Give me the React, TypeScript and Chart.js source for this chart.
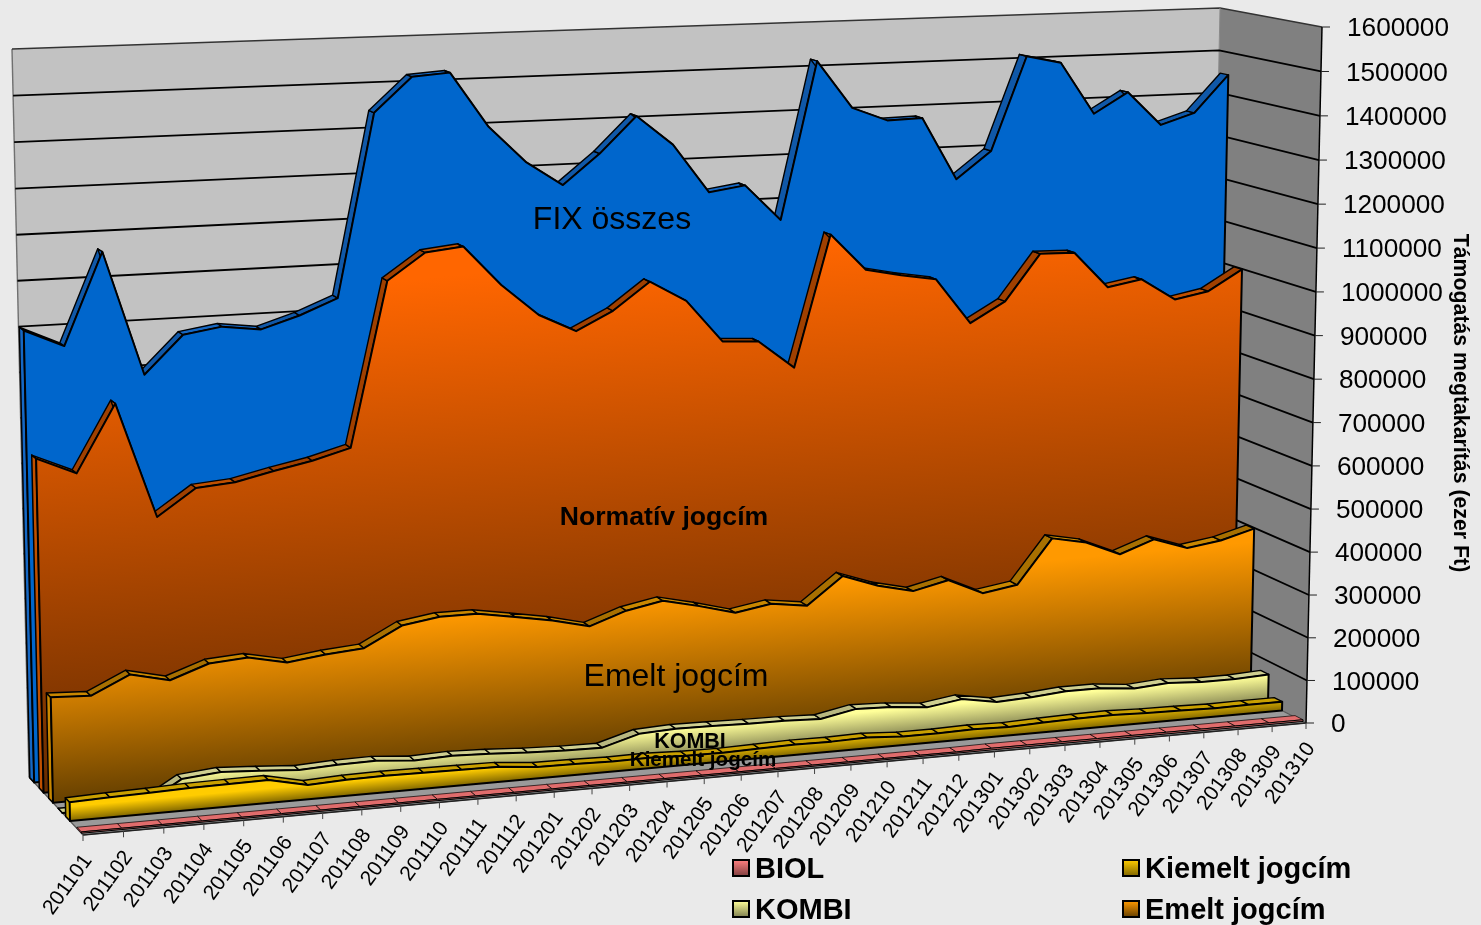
import React, { useEffect, useRef } from "react";
import { Chart, LineController, registerables } from "chart.js";

const months = ["201101","201102","201103","201104","201105","201106","201107","201108","201109","201110","201111","201112","201201","201202","201203","201204","201205","201206","201207","201208","201209","201210","201211","201212","201301","201302","201303","201304","201305","201306","201307","201308","201309","201310"];

const biol = [3000,3000,3000,3000,3000,3000,3000,3000,3000,3000,3000,3000,3000,3000,3000,3000,3000,3000,3000,3000,3000,3000,3000,3000,4000,4000,4000,4000,4000,4000,4000,4000,4000,4000];
const kiemelt = [41000,44000,46000,49000,50000,51000,32000,36000,37000,36000,35000,34000,26000,25000,23000,24000,21000,20000,22000,24000,23000,25000,20000,20000,22000,20000,23000,25000,26000,23000,22000,20000,21000,21000];
const kombi = [0,0,0,51000,59000,54000,48000,52000,53000,46000,49000,46000,41000,38000,37000,61000,65000,64000,62000,61000,58000,74000,71000,63000,75000,61000,65000,72000,72000,64000,70000,65000,65000,69000];
const emelt = [233000,229000,269000,249000,279000,285000,267000,278000,285000,329000,342000,342000,328000,313000,293000,322000,338000,319000,297000,311000,300000,362000,333000,314000,333000,296000,309000,412000,396000,362000,391000,364000,376000,398000];
const normativ = [737000,699000,846000,591000,649000,656000,675000,692000,715000,1081000,1139000,1148000,1058000,986000,945000,986000,1047000,999000,902000,897000,832000,1132000,1047000,1030000,1016000,910000,956000,1062000,1060000,975000,989000,937000,952000,999000];
const fix = [1000000,961000,1162000,888000,971000,984000,973000,999000,1033000,1439000,1515000,1521000,1399000,1316000,1260000,1327000,1408000,1340000,1228000,1240000,1157000,1516000,1406000,1374000,1376000,1231000,1293000,1509000,1491000,1369000,1416000,1336000,1361000,1447000];

const seriesNames = ["BIOL", "Kiemelt jogcím", "KOMBI", "Emelt jogcím", "Normatív jogcím", "FIX összes"];
const seriesValues = [biol, kiemelt, kombi, emelt, normativ, fix];
const topColors = ["#ff8080", "#ffcc00", "#ffff99", "#ff9900", "#ff6600", "#0066cc"];
const bottomColors = ["#804040", "#806600", "#808050", "#664000", "#662c00", "#0066cc"];
const gradientStarts = [0, 0.35, 0.15, 0.15, 0.04, 0];
const ridgeColors = ["#e06c6c", "#c9a000", "#cfcf90", "#c98700", "#c05000", "#1668c4"];
const ridgeDark = ["#c86060", "#b08c00", "#b8b880", "#a87000", "#a04000", "#1058a8"];
const frontDepths = [0.03, 0.24, 0.38, 0.555, 0.73, 0.905];
const slabDepth = 0.08;

const yTicksStep = 100000;
const yMax = 1600000;
const axisTitle = "Támogatás megtakarítás (ezer Ft)";

const inlineLabels = [
  { text: "FIX összes", x: 612, y: 220, font: "32px 'Liberation Sans'" },
  { text: "Normatív jogcím", x: 664, y: 518, font: "bold 26.6px 'Liberation Sans'" },
  { text: "Emelt jogcím", x: 676, y: 677, font: "32px 'Liberation Sans'" },
  { text: "KOMBI", x: 690, y: 742, font: "bold 21.5px 'Liberation Sans'" },
  { text: "Kiemelt jogcím", x: 703, y: 760, font: "bold 20.6px 'Liberation Sans'" },
];

// Cube corners on screen: back plane and front plane
const back = { bl: [29, 777], br: [1206, 671], tr: [1220, 8], tl: [12, 49] };
const front = { bl: [83, 835], br: [1306, 723], tr: [1322, 27], tl: [68, 78] };
const perspectiveBow = 0.0067;

const mix = (a: number[], b: number[], d: number) => [a[0] * (1 - d) + b[0] * d, a[1] * (1 - d) + b[1] * d];

function project(uIn: number, v: number, d: number) {
  const u = uIn + perspectiveBow * uIn * (1 - uIn);
  const p0 = mix(front.bl, back.bl, d), p1 = mix(front.br, back.br, d), p2 = mix(front.tr, back.tr, d), p3 = mix(front.tl, back.tl, d);
  const dx1 = p1[0] - p2[0], dx2 = p3[0] - p2[0], sx = p0[0] - p1[0] + p2[0] - p3[0];
  const dy1 = p1[1] - p2[1], dy2 = p3[1] - p2[1], sy = p0[1] - p1[1] + p2[1] - p3[1];
  const den = dx1 * dy2 - dx2 * dy1;
  const g = (sx * dy2 - dx2 * sy) / den, h = (dx1 * sy - sx * dy1) / den;
  const a = p1[0] - p0[0] + g * p1[0], b = p3[0] - p0[0] + h * p3[0];
  const dd = p1[1] - p0[1] + g * p1[1], e = p3[1] - p0[1] + h * p3[1];
  const w = g * u + h * v + 1;
  return [(a * u + b * v + p0[0]) / w, (dd * u + e * v + p0[1]) / w];
}

function poly(ctx: CanvasRenderingContext2D, pts: number[][]) {
  ctx.beginPath();
  pts.forEach((p, i) => (i ? ctx.lineTo(p[0], p[1]) : ctx.moveTo(p[0], p[1])));
  ctx.closePath();
}

class Area3D extends LineController {
  draw() {
    const ctx: CanvasRenderingContext2D = this.chart.ctx;
    const area = this.chart.chartArea;
    const i = this.index;
    const df = frontDepths[i], db = df + slabDepth;
    const norm = this.getMeta().data.map((p: any) => [(p.x - area.left) / (area.right - area.left), (area.bottom - p.y) / (area.bottom - area.top)]);
    const n = norm.length;
    const thin = i === 0;
    ctx.save();
    ctx.lineJoin = "round";
    ctx.strokeStyle = "#000";

    // left end cap of the slab
    poly(ctx, [project(0, norm[0][1], df), project(0, norm[0][1], db), project(0, 0, db), project(0, 0, df)]);
    ctx.fillStyle = ridgeColors[i];
    ctx.fill();
    ctx.lineWidth = thin ? 0.7 : 1.5;
    ctx.stroke();

    // top ridge, segment by segment
    for (let k = 0; k < n - 1; k++) {
      const [u0, v0] = norm[k];
      const [u1, v1] = norm[k + 1];
      const rising = v1 - v0 > 0.01;
      poly(ctx, [project(u0, v0, df), project(u0, v0, db), project(u1, v1, db), project(u1, v1, df)]);
      ctx.fillStyle = rising ? ridgeDark[i] : ridgeColors[i];
      ctx.fill();
      ctx.lineWidth = thin ? 0.7 : 1.4;
      ctx.stroke();
    }

    // front face
    const top = norm.map(([u, v]: number[]) => project(u, v, df));
    const b0 = project(0, 0, df), b1 = project(1, 0, df);
    const maxV = Math.max(...norm.map((q: number[]) => q[1]));
    const mid = project(0.5, maxV, df), midB = project(0.5, 0, df);
    const bl = Math.hypot(b1[0] - b0[0], b1[1] - b0[1]);
    const nx = -(b1[1] - b0[1]) / bl, ny = (b1[0] - b0[0]) / bl;
    const dist = (midB[0] - mid[0]) * nx + (midB[1] - mid[1]) * ny;
    const grad = ctx.createLinearGradient(mid[0], mid[1], mid[0] + nx * dist, mid[1] + ny * dist);
    grad.addColorStop(0, topColors[i]);
    grad.addColorStop(gradientStarts[i], topColors[i]);
    grad.addColorStop(1, bottomColors[i]);
    poly(ctx, [...top, b1, b0]);
    ctx.fillStyle = grad;
    ctx.fill();
    ctx.lineWidth = thin ? 1 : 2;
    ctx.stroke();
    ctx.restore();
  }
}
(Area3D as any).id = "area3d";
(Area3D as any).defaults = (LineController as any).defaults;
(Area3D as any).overrides = (LineController as any).overrides;

Chart.register(...registerables, Area3D as any);

const wallsPlugin = {
  id: "walls",
  beforeDatasetsDraw(chart: any) {
    const ctx: CanvasRenderingContext2D = chart.ctx;
    const y = chart.scales.y;
    const area = chart.chartArea;
    const vOf = (t: number) => (area.bottom - y.getPixelForValue(t)) / (area.bottom - area.top);
    ctx.save();
    ctx.lineJoin = "round";
    // back wall
    poly(ctx, [project(0, 0, 1), project(1, 0, 1), project(1, 1, 1), project(0, 1, 1)]);
    ctx.fillStyle = "#c2c2c2";
    ctx.fill();
    // side wall
    poly(ctx, [project(1, 0, 1), project(1, 1, 1), project(1, 1, 0), project(1, 0, 0)]);
    ctx.fillStyle = "#808080";
    ctx.fill();
    // floor
    poly(ctx, [project(0, 0, 1), project(1, 0, 1), project(1, 0, 0), project(0, 0, 0)]);
    ctx.fillStyle = "#9a9a9a";
    ctx.fill();
    ctx.strokeStyle = "#555";
    ctx.lineWidth = 1.2;
    ctx.stroke();
    // outer edges of the walls
    const leftEdgeA = project(0, 0, 1), leftEdgeB = project(0, 1, 1);
    ctx.beginPath();
    ctx.moveTo(leftEdgeA[0], leftEdgeA[1]);
    ctx.lineTo(leftEdgeB[0], leftEdgeB[1]);
    ctx.strokeStyle = "#707070";
    ctx.lineWidth = 1.4;
    ctx.stroke();
    const tl = project(0, 1, 1), trb = project(1, 1, 1), trf = project(1, 1, 0);
    ctx.beginPath();
    ctx.moveTo(tl[0], tl[1]);
    ctx.lineTo(trb[0], trb[1]);
    ctx.lineTo(trf[0], trf[1]);
    ctx.strokeStyle = "#333";
    ctx.lineWidth = 1.4;
    ctx.stroke();
    const cornerA = project(1, 0, 1);
    ctx.beginPath();
    ctx.moveTo(cornerA[0], cornerA[1]);
    ctx.lineTo(trb[0], trb[1]);
    ctx.strokeStyle = "#8a8a8a";
    ctx.lineWidth = 1;
    ctx.stroke();
    // gridlines
    ctx.strokeStyle = "#000";
    ctx.lineWidth = 1.8;
    y.ticks.forEach((t: any) => {
      const v = vOf(t.value);
      if (v <= 0 || v >= 1) return;
      const a = project(0, v, 1), b = project(1, v, 1), c = project(1, v, 0);
      ctx.beginPath();
      ctx.moveTo(a[0], a[1]);
      ctx.lineTo(b[0], b[1]);
      ctx.lineTo(c[0], c[1]);
      ctx.stroke();
    });
    ctx.restore();
  },
  afterDatasetsDraw(chart: any) {
    const ctx: CanvasRenderingContext2D = chart.ctx;
    const { x, y } = chart.scales;
    const area = chart.chartArea;
    const vOf = (t: number) => (area.bottom - y.getPixelForValue(t)) / (area.bottom - area.top);
    const uOf = (i: number) => (x.getPixelForTick(i) - area.left) / (area.right - area.left);
    ctx.save();
    ctx.fillStyle = "#000";
    // value axis
    const a0 = project(1, 0, 0), a1 = project(1, 1, 0);
    ctx.strokeStyle = "#000";
    ctx.lineWidth = 1.5;
    ctx.beginPath();
    ctx.moveTo(a0[0], a0[1]);
    ctx.lineTo(a1[0], a1[1]);
    ctx.stroke();
    ctx.font = "26.2px 'Liberation Sans'";
    ctx.textAlign = "left";
    ctx.textBaseline = "middle";
    y.ticks.forEach((t: any) => {
      const p = project(1, vOf(t.value), 0);
      ctx.beginPath();
      ctx.moveTo(p[0], p[1]);
      ctx.lineTo(p[0] + 8, p[1]);
      ctx.strokeStyle = "#222";
      ctx.lineWidth = 1;
      ctx.stroke();
      ctx.fillText(String(t.value), p[0] + 25, p[1] + 2);
    });
    // category axis
    const f0 = project(0, 0, 0);
    ctx.strokeStyle = "#222";
    ctx.lineWidth = 1.5;
    ctx.beginPath();
    ctx.moveTo(f0[0], f0[1]);
    ctx.lineTo(a0[0], a0[1]);
    ctx.stroke();
    ctx.font = "21px 'Liberation Sans'";
    ctx.textAlign = "right";
    x.ticks.forEach((t: any, i: number) => {
      const p = project(uOf(i), 0, 0);
      ctx.beginPath();
      ctx.moveTo(p[0], p[1]);
      ctx.lineTo(p[0], p[1] + 6);
      ctx.strokeStyle = "#444";
      ctx.lineWidth = 1;
      ctx.stroke();
      ctx.save();
      ctx.translate(p[0] + 5, p[1] + 22);
      ctx.rotate((-54 * Math.PI) / 180);
      ctx.fillText(String(t.label), 0, 0);
      ctx.restore();
    });
    // labels on the areas
    ctx.textAlign = "center";
    inlineLabels.forEach((l) => {
      ctx.font = l.font;
      ctx.fillText(l.text, l.x, l.y);
    });
    // axis title
    ctx.save();
    ctx.translate(1460, 403);
    ctx.rotate(Math.PI / 2);
    ctx.font = "bold 21.3px 'Liberation Sans'";
    ctx.fillText(axisTitle, 0, 0);
    ctx.restore();
    // legend
    ctx.textAlign = "left";
    ctx.font = "bold 29px 'Liberation Sans'";
    seriesNames.slice(0, 4).forEach((name, i) => {
      const col = i % 2, row = (i - col) / 2;
      const sx = col ? 1123 : 733;
      const cy = row ? 909 : 868;
      const g = ctx.createLinearGradient(0, cy - 8, 0, cy + 8);
      g.addColorStop(0, topColors[i]);
      g.addColorStop(1, bottomColors[i]);
      ctx.fillStyle = g;
      ctx.fillRect(sx, cy - 8, 16, 16);
      ctx.strokeStyle = "#000";
      ctx.lineWidth = 2;
      ctx.strokeRect(sx, cy - 8, 16, 16);
      ctx.fillStyle = "#000";
      ctx.fillText(name, sx + 22, cy + 2);
    });
    ctx.restore();
  },
};

export default function App() {
  const ref = useRef<HTMLCanvasElement | null>(null);
  useEffect(() => {
    if (!ref.current) return;
    const chart = new Chart(ref.current, {
      type: "area3d" as any,
      data: {
        labels: months,
        datasets: seriesNames.map((name, i) => ({
          label: name,
          data: seriesValues[i],
          backgroundColor: topColors[i],
          borderColor: "#000",
          pointRadius: 0,
        })),
      },
      options: {
        animation: false,
        responsive: false,
        events: [],
        layout: { padding: 0 },
        plugins: { legend: { display: false }, tooltip: { enabled: false } },
        scales: {
          x: { type: "category", display: false, offset: false },
          y: { type: "linear", display: false, min: 0, max: yMax, ticks: { stepSize: yTicksStep, count: 17 } },
        },
      } as any,
      plugins: [wallsPlugin],
    });
    return () => chart.destroy();
  }, []);
  return (
    <div style={{ position: "absolute", left: 0, top: 0, width: 1481, height: 925, background: "#eaeaea", overflow: "hidden" }}>
      <canvas ref={ref} width={1481} height={925} style={{ display: "block", filter: "blur(0.4px)" }} />
    </div>
  );
}
